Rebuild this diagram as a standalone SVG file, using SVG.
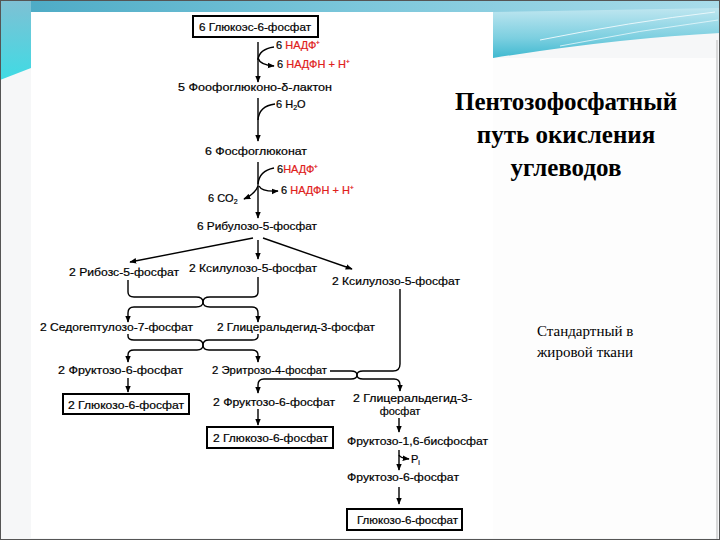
<svg xmlns="http://www.w3.org/2000/svg" width="720" height="540" viewBox="0 0 720 540">
<defs>
<linearGradient id="topg" x1="0" y1="0" x2="1" y2="0">
<stop offset="0" stop-color="#4aa9c4"/><stop offset="0.5" stop-color="#7cc7db"/><stop offset="1" stop-color="#a9dcea"/>
</linearGradient>
<linearGradient id="wave" x1="0" y1="0" x2="0" y2="1">
<stop offset="0" stop-color="#bfe6f0"/><stop offset="0.6" stop-color="#7ccfe0"/><stop offset="1" stop-color="#3fb9d0"/>
</linearGradient>
<linearGradient id="leftg" x1="0" y1="0" x2="0" y2="1">
<stop offset="0" stop-color="#7fc0d4"/><stop offset="1" stop-color="#3fdbe4"/>
</linearGradient>
<marker id="ah" viewBox="0 0 10 10" refX="9" refY="5" markerWidth="7" markerHeight="7" orient="auto" markerUnits="userSpaceOnUse">
<path d="M0,1 L10,5 L0,9 Z" fill="#000"/>
</marker>
<style>
.t{font-family:"Liberation Sans",Arial,sans-serif;font-size:11px;fill:#000;stroke:#000;stroke-width:0.2}
.r{fill:#e0201a;stroke:#e0201a}
.ln{fill:none;stroke:#000;stroke-width:1.4}
.bx{fill:#fff;stroke:#000;stroke-width:2}
.ttl{font-family:"Liberation Serif","Times New Roman",serif;font-weight:bold;font-size:25px;fill:#000}
.sub{font-family:"Liberation Serif","Times New Roman",serif;font-size:15px;fill:#000}
</style>
</defs>

<g id="background">
<rect x="0" y="0" width="720" height="540" fill="#f6f7f8"/>
<rect x="0" y="0" width="720" height="13" fill="url(#topg)"/>
<path d="M493,12 L720,8 L720,33 Q620,38 493,58 Z" fill="url(#wave)"/>
<path d="M540,40 Q630,22 715,12" fill="none" stroke="#e8f7fb" stroke-width="1"/>
<path d="M560,46 Q640,30 718,20" fill="none" stroke="#e8f7fb" stroke-width="0.8"/>
<path d="M0,0 H31 V68 L0,80 Z" fill="url(#leftg)"/>
<rect x="493" y="58" width="223" height="480" fill="#fdfdfd"/>
<rect x="31" y="12" width="462" height="526" fill="#ffffff"/>
<line x1="717" y1="40" x2="717" y2="540" stroke="#bbb" stroke-width="1"/>
<rect x="0.5" y="0.5" width="719" height="539" fill="none" stroke="#555" stroke-width="1"/>
</g>

<g id="connectors">
<line class="ln" x1="258" y1="42" x2="258" y2="82" marker-end="url(#ah)"/>
<path class="ln" d="M274,47 Q259,49 258,60"/>
<path class="ln" d="M258,58 Q260,65 274,66" marker-end="url(#ah)"/>
<line class="ln" x1="258" y1="98" x2="258" y2="141" marker-end="url(#ah)"/>
<path class="ln" d="M275,104 Q259,106 258,120"/>
<line class="ln" x1="258" y1="162" x2="258" y2="218" marker-end="url(#ah)"/>
<path class="ln" d="M274,168 Q259,171 258,184"/>
<path class="ln" d="M258,186 Q255,194 244,199" marker-end="url(#ah)"/>
<path class="ln" d="M259,186 Q262,192 278,191" marker-end="url(#ah)"/>
<line class="ln" x1="253" y1="238" x2="130" y2="262" marker-end="url(#ah)"/>
<line class="ln" x1="258" y1="240" x2="258" y2="259" marker-end="url(#ah)"/>
<line class="ln" x1="263" y1="238" x2="352" y2="269" marker-end="url(#ah)"/>
<path class="ln" d="M128,280 V292 Q128,297 134,297 H196 Q203,297 203,302"/>
<path class="ln" d="M258,277 V292 Q258,297 252,297 H210 Q203,297 203,302"/>
<path class="ln" d="M203,302 Q203,307 196,307 H134 Q128,307 128,313 V322" marker-end="url(#ah)"/>
<path class="ln" d="M203,302 Q203,307 210,307 H252 Q258,307 258,313 V322" marker-end="url(#ah)"/>
<path class="ln" d="M128,334 V336 Q128,340 134,340 H197 Q203,340 203,345"/>
<path class="ln" d="M258,334 V336 Q258,340 252,340 H209 Q203,340 203,345"/>
<path class="ln" d="M203,345 Q203,350 197,350 H134 Q128,350 128,355 V362" marker-end="url(#ah)"/>
<path class="ln" d="M203,345 Q203,350 209,350 H252 Q258,350 258,355 V362" marker-end="url(#ah)"/>
<path class="ln" d="M330,371 H351 Q357,371 357,375"/>
<path class="ln" d="M400,289 V364 Q400,371 393,371 H363 Q357,371 357,375"/>
<path class="ln" d="M357,375 Q357,379 351,379 H264 Q258,379 258,385 V393" marker-end="url(#ah)"/>
<path class="ln" d="M357,375 Q357,379 363,379 H394 Q400,379 400,385 V391" marker-end="url(#ah)"/>
<line class="ln" x1="128" y1="378" x2="128" y2="392" marker-end="url(#ah)"/>
<line class="ln" x1="258" y1="409" x2="258" y2="425" marker-end="url(#ah)"/>
<line class="ln" x1="399" y1="418" x2="399" y2="432" marker-end="url(#ah)"/>
<line class="ln" x1="399" y1="450" x2="399" y2="470" marker-end="url(#ah)"/>
<path class="ln" d="M399,455 Q400,458 409,459" marker-end="url(#ah)"/>
<line class="ln" x1="399" y1="487" x2="399" y2="504" marker-end="url(#ah)"/>
</g>

<g id="n-g6p-top">
<rect class="bx" x="193" y="16" width="125" height="21"/>
<text class="t" x="199" y="31" textLength="112" lengthAdjust="spacingAndGlyphs">6 Глюкоэс-6-фосфат</text>
</g>
<g id="n-nadp1">
<text class="t" x="276" y="49">6 <tspan class="r">НАДФ⁺</tspan></text>
<text class="t" x="277" y="68">6 <tspan class="r">НАДФН  +  Н⁺</tspan></text>
</g>
<g id="n-lactone">
<text class="t" x="178" y="91" textLength="154" lengthAdjust="spacingAndGlyphs">5  Фоофоглюконо-δ-лактон</text>
</g>
<g id="n-h2o">
<text class="t" x="276" y="108">6  H<tspan font-size="7" dy="2">2</tspan><tspan dy="-2">O</tspan></text>
</g>
<g id="n-phosphogluconate">
<text class="t" x="205" y="155" textLength="102" lengthAdjust="spacingAndGlyphs">6  Фосфоглюконат</text>
</g>
<g id="n-nadp2">
<text class="t" x="277" y="173">6<tspan class="r">НАДФ⁺</tspan></text>
<text class="t" x="281" y="194">6 <tspan class="r">НАДФН  +  Н⁺</tspan></text>
<text class="t" x="208" y="202">6  CO<tspan font-size="7" dy="2">2</tspan></text>
</g>
<g id="n-ribulose">
<text class="t" x="197" y="230" textLength="120" lengthAdjust="spacingAndGlyphs">6 Рибулозо-5-фосфат</text>
</g>
<g id="n-ribose">
<text class="t" x="69" y="276" textLength="110" lengthAdjust="spacingAndGlyphs">2 Рибозс-5-фосфат</text>
</g>
<g id="n-xylulose1">
<text class="t" x="189" y="272" textLength="128" lengthAdjust="spacingAndGlyphs">2 Ксилулозо-5-фосфат</text>
</g>
<g id="n-xylulose2">
<text class="t" x="332" y="285" textLength="128" lengthAdjust="spacingAndGlyphs">2 Ксилулозо-5-фосфат</text>
</g>
<g id="n-sedoheptulose">
<text class="t" x="40" y="331" textLength="153" lengthAdjust="spacingAndGlyphs">2 Седогептулозо-7-фосфат</text>
</g>
<g id="n-gap1">
<text class="t" x="217" y="331" textLength="158" lengthAdjust="spacingAndGlyphs">2 Глицеральдегид-3-фосфат</text>
</g>
<g id="n-f6p1">
<text class="t" x="58" y="374" textLength="125" lengthAdjust="spacingAndGlyphs">2 Фруктозо-6-фосфат</text>
</g>
<g id="n-erythrose">
<text class="t" x="212" y="374" textLength="115" lengthAdjust="spacingAndGlyphs">2 Эритрозо-4-фосфат</text>
</g>
<g id="n-g6p-left">
<rect class="bx" x="63" y="394" width="126" height="20"/>
<text class="t" x="68" y="409" textLength="116" lengthAdjust="spacingAndGlyphs">2 Глюкозо-6-фосфат</text>
</g>
<g id="n-f6p2">
<text class="t" x="213" y="406" textLength="122" lengthAdjust="spacingAndGlyphs">2 Фруктозо-6-фосфат</text>
</g>
<g id="n-gap2">
<text class="t" x="353" y="402" textLength="119" lengthAdjust="spacingAndGlyphs">2 Глицеральдегид-3-</text>
<text class="t" x="400" y="415" text-anchor="middle" font-size="10">фосфат</text>
</g>
<g id="n-g6p-mid">
<rect class="bx" x="207" y="427" width="126" height="21"/>
<text class="t" x="213" y="442" textLength="115" lengthAdjust="spacingAndGlyphs">2 Глюкозо-6-фосфат</text>
</g>
<g id="n-fbp">
<text class="t" x="347" y="445" textLength="141" lengthAdjust="spacingAndGlyphs">Фруктозо-1,6-бисфосфат</text>
</g>
<g id="n-pi">
<text class="t" x="411" y="463">P<tspan font-size="7" dy="2">i</tspan></text>
</g>
<g id="n-f6p3">
<text class="t" x="347" y="481" textLength="112" lengthAdjust="spacingAndGlyphs">Фруктозо-6-фосфат</text>
</g>
<g id="n-g6p-right">
<rect class="bx" x="347" y="509" width="115" height="21"/>
<text class="t" x="357" y="524" textLength="101" lengthAdjust="spacingAndGlyphs">Глюкозо-6-фосфат</text>
</g>

<g id="title">
<text class="ttl" x="566" y="110" text-anchor="middle">Пентозофосфатный</text>
<text class="ttl" x="566" y="143" text-anchor="middle">путь окисления</text>
<text class="ttl" x="566" y="176" text-anchor="middle">углеводов</text>
</g>
<g id="subtitle">
<text class="sub" x="537" y="336">Стандартный в</text>
<text class="sub" x="537" y="357">жировой ткани</text>
</g>
</svg>
